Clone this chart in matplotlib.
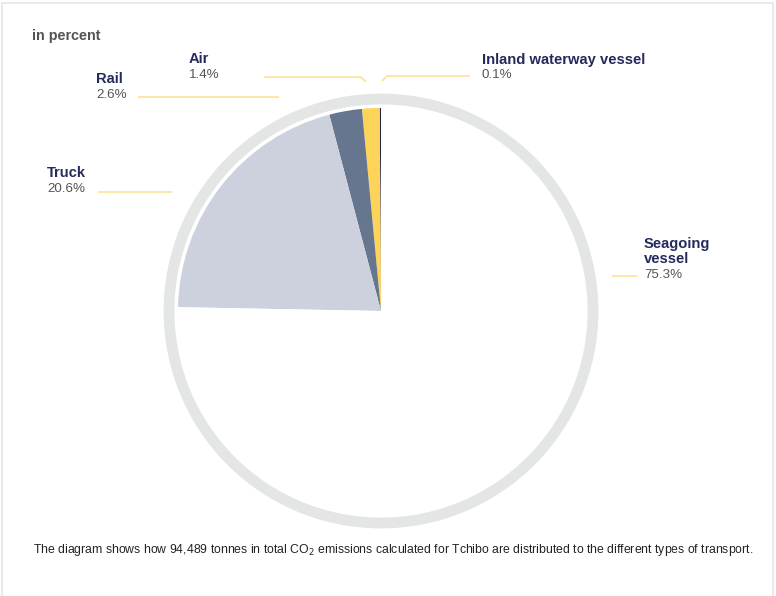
import matplotlib.pyplot as plt
from matplotlib.patches import Circle

# CO2 emissions by mode of transport, in percent
modes = ['Inland waterway vessel', 'Air', 'Rail', 'Truck', 'Seagoing\nvessel']
shares = [0.1, 1.4, 2.6, 20.6, 75.3]
colors = ['#1c2253', '#fdd35a', '#66768f', '#cdd1de', '#ffffff']

W, H = 776, 596
NAVY = '#252a5c'
GREY = '#555555'
LEADER = '#fde08e'

# label anchor (left x, baseline y of the name) and leader polyline, in pixels from top-left
label_pos = [(482, 64), (189, 63), (96, 83), (47, 177), (644, 248)]
leaders = [
    [(382, 81), (387, 76), (470, 76)],
    [(264, 77), (361, 77), (366, 82)],
    [(138, 97), (279, 97)],
    [(98, 192), (172, 192)],
    [(612, 276), (637, 276)],
]

fig = plt.figure(figsize=(W / 100, H / 100), dpi=100)
ax = fig.add_axes([0, 0, 1, 1])

def fy(y):
    return H - y

cx, cy, r = 381, fy(311), 203
ax.add_patch(Circle((cx, cy), r + 9, fill=False, ec='#e4e5e5', lw=7.8))

ax.pie(shares, colors=colors, startangle=90, counterclock=True,
       center=(cx, cy), radius=r, frame=True,
       wedgeprops=dict(linewidth=0))
ax.set_xlim(0, W)
ax.set_ylim(0, H)
ax.set_aspect('equal')
ax.axis('off')

# card outline
ax.plot([1.5, 1.5, 772.5, 772.5], [0, fy(2.5), fy(2.5), 0], color='#e6e6e6', lw=1.2)

for name, val, (lx, ly), pts in zip(modes, shares, label_pos, leaders):
    lines = name.split('\n')
    for k, line in enumerate(lines):
        ax.text(lx, fy(ly + 15 * k), line, fontsize=10.6, fontweight='bold', color=NAVY,
                family='Liberation Sans', va='baseline', ha='left')
    ax.text(lx, fy(ly + 14.5 + 15 * (len(lines) - 1)), f'{val:.1f}%', fontsize=9.6,
            color=GREY, family='Liberation Sans', va='baseline', ha='left')
    xs = [p[0] for p in pts]
    ys = [fy(p[1]) for p in pts]
    ax.plot(xs, ys, color=LEADER, lw=1.1, solid_capstyle='butt')

ax.text(32, fy(40), 'in percent', fontsize=10.4, fontweight='bold', color=GREY,
        family='Liberation Sans', va='baseline')

ax.text(33, fy(553),
        'The diagram shows how 94,489 tonnes in total CO$_2$ emissions calculated for Tchibo '
        'are distributed to the different types of transport.',
        fontsize=8.8, color='#222222', family='Liberation Sans', va='baseline')

fig.savefig('out.png', dpi=100)
